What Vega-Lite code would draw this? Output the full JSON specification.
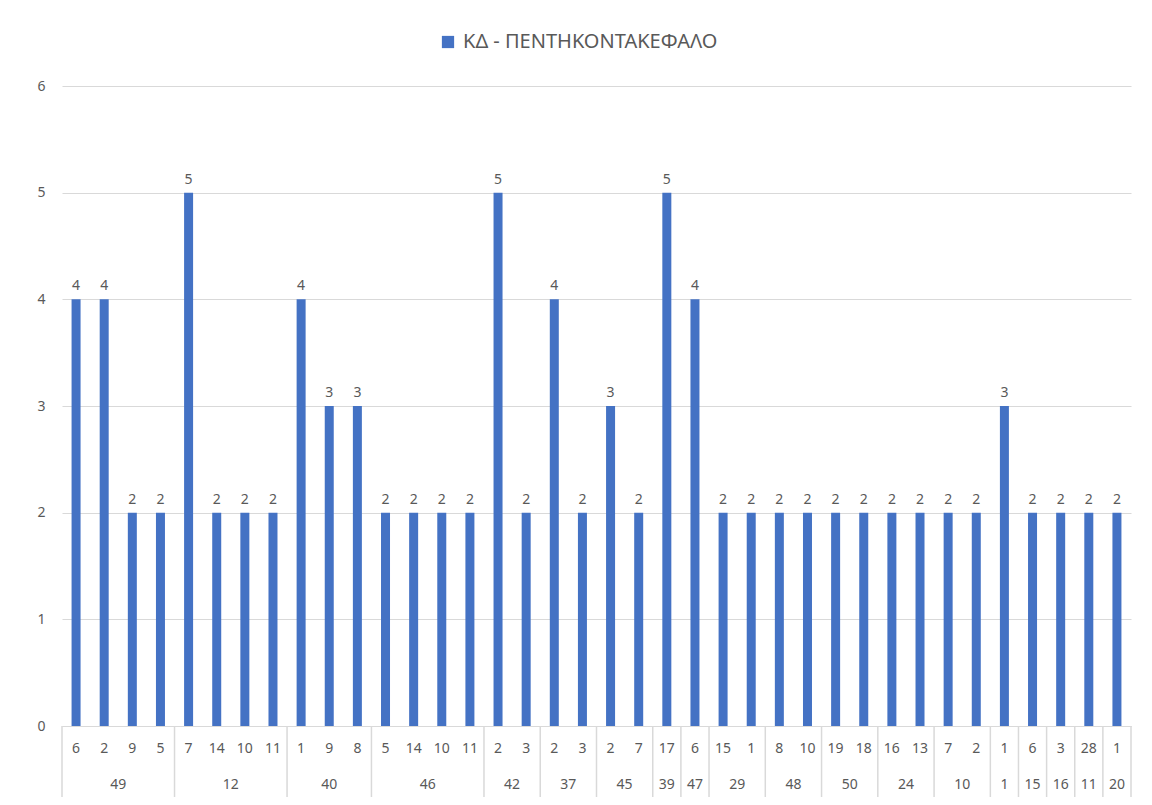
{
  "$schema": "https://vega.github.io/schema/vega-lite/v6.json",
  "width": 1069,
  "height": 640,
  "autosize": {"type": "none"},
  "padding": {"left": 62, "top": 86, "right": 21, "bottom": 79},
  "background": "white",
  "config": {
    "view": {"stroke": null},
    "font": "Noto Sans",
    "axis": {"labelFont": "Noto Sans", "labelColor": "#595959", "labelFontSize": 14}
  },
  "datasets": {
    "bars": [
      {"g": "49", "c": "6", "k": "49|6", "v": 4, "s": "ΚΔ - ΠΕΝΤΗΚΟΝΤΑΚΕΦΑΛΟ"},
      {"g": "49", "c": "2", "k": "49|2", "v": 4, "s": "ΚΔ - ΠΕΝΤΗΚΟΝΤΑΚΕΦΑΛΟ"},
      {"g": "49", "c": "9", "k": "49|9", "v": 2, "s": "ΚΔ - ΠΕΝΤΗΚΟΝΤΑΚΕΦΑΛΟ"},
      {"g": "49", "c": "5", "k": "49|5", "v": 2, "s": "ΚΔ - ΠΕΝΤΗΚΟΝΤΑΚΕΦΑΛΟ"},
      {"g": "12", "c": "7", "k": "12|7", "v": 5, "s": "ΚΔ - ΠΕΝΤΗΚΟΝΤΑΚΕΦΑΛΟ"},
      {"g": "12", "c": "14", "k": "12|14", "v": 2, "s": "ΚΔ - ΠΕΝΤΗΚΟΝΤΑΚΕΦΑΛΟ"},
      {"g": "12", "c": "10", "k": "12|10", "v": 2, "s": "ΚΔ - ΠΕΝΤΗΚΟΝΤΑΚΕΦΑΛΟ"},
      {"g": "12", "c": "11", "k": "12|11", "v": 2, "s": "ΚΔ - ΠΕΝΤΗΚΟΝΤΑΚΕΦΑΛΟ"},
      {"g": "40", "c": "1", "k": "40|1", "v": 4, "s": "ΚΔ - ΠΕΝΤΗΚΟΝΤΑΚΕΦΑΛΟ"},
      {"g": "40", "c": "9", "k": "40|9", "v": 3, "s": "ΚΔ - ΠΕΝΤΗΚΟΝΤΑΚΕΦΑΛΟ"},
      {"g": "40", "c": "8", "k": "40|8", "v": 3, "s": "ΚΔ - ΠΕΝΤΗΚΟΝΤΑΚΕΦΑΛΟ"},
      {"g": "46", "c": "5", "k": "46|5", "v": 2, "s": "ΚΔ - ΠΕΝΤΗΚΟΝΤΑΚΕΦΑΛΟ"},
      {"g": "46", "c": "14", "k": "46|14", "v": 2, "s": "ΚΔ - ΠΕΝΤΗΚΟΝΤΑΚΕΦΑΛΟ"},
      {"g": "46", "c": "10", "k": "46|10", "v": 2, "s": "ΚΔ - ΠΕΝΤΗΚΟΝΤΑΚΕΦΑΛΟ"},
      {"g": "46", "c": "11", "k": "46|11", "v": 2, "s": "ΚΔ - ΠΕΝΤΗΚΟΝΤΑΚΕΦΑΛΟ"},
      {"g": "42", "c": "2", "k": "42|2", "v": 5, "s": "ΚΔ - ΠΕΝΤΗΚΟΝΤΑΚΕΦΑΛΟ"},
      {"g": "42", "c": "3", "k": "42|3", "v": 2, "s": "ΚΔ - ΠΕΝΤΗΚΟΝΤΑΚΕΦΑΛΟ"},
      {"g": "37", "c": "2", "k": "37|2", "v": 4, "s": "ΚΔ - ΠΕΝΤΗΚΟΝΤΑΚΕΦΑΛΟ"},
      {"g": "37", "c": "3", "k": "37|3", "v": 2, "s": "ΚΔ - ΠΕΝΤΗΚΟΝΤΑΚΕΦΑΛΟ"},
      {"g": "45", "c": "2", "k": "45|2", "v": 3, "s": "ΚΔ - ΠΕΝΤΗΚΟΝΤΑΚΕΦΑΛΟ"},
      {"g": "45", "c": "7", "k": "45|7", "v": 2, "s": "ΚΔ - ΠΕΝΤΗΚΟΝΤΑΚΕΦΑΛΟ"},
      {"g": "39", "c": "17", "k": "39|17", "v": 5, "s": "ΚΔ - ΠΕΝΤΗΚΟΝΤΑΚΕΦΑΛΟ"},
      {"g": "47", "c": "6", "k": "47|6", "v": 4, "s": "ΚΔ - ΠΕΝΤΗΚΟΝΤΑΚΕΦΑΛΟ"},
      {"g": "29", "c": "15", "k": "29|15", "v": 2, "s": "ΚΔ - ΠΕΝΤΗΚΟΝΤΑΚΕΦΑΛΟ"},
      {"g": "29", "c": "1", "k": "29|1", "v": 2, "s": "ΚΔ - ΠΕΝΤΗΚΟΝΤΑΚΕΦΑΛΟ"},
      {"g": "48", "c": "8", "k": "48|8", "v": 2, "s": "ΚΔ - ΠΕΝΤΗΚΟΝΤΑΚΕΦΑΛΟ"},
      {"g": "48", "c": "10", "k": "48|10", "v": 2, "s": "ΚΔ - ΠΕΝΤΗΚΟΝΤΑΚΕΦΑΛΟ"},
      {"g": "50", "c": "19", "k": "50|19", "v": 2, "s": "ΚΔ - ΠΕΝΤΗΚΟΝΤΑΚΕΦΑΛΟ"},
      {"g": "50", "c": "18", "k": "50|18", "v": 2, "s": "ΚΔ - ΠΕΝΤΗΚΟΝΤΑΚΕΦΑΛΟ"},
      {"g": "24", "c": "16", "k": "24|16", "v": 2, "s": "ΚΔ - ΠΕΝΤΗΚΟΝΤΑΚΕΦΑΛΟ"},
      {"g": "24", "c": "13", "k": "24|13", "v": 2, "s": "ΚΔ - ΠΕΝΤΗΚΟΝΤΑΚΕΦΑΛΟ"},
      {"g": "10", "c": "7", "k": "10|7", "v": 2, "s": "ΚΔ - ΠΕΝΤΗΚΟΝΤΑΚΕΦΑΛΟ"},
      {"g": "10", "c": "2", "k": "10|2", "v": 2, "s": "ΚΔ - ΠΕΝΤΗΚΟΝΤΑΚΕΦΑΛΟ"},
      {"g": "1", "c": "1", "k": "1|1", "v": 3, "s": "ΚΔ - ΠΕΝΤΗΚΟΝΤΑΚΕΦΑΛΟ"},
      {"g": "15", "c": "6", "k": "15|6", "v": 2, "s": "ΚΔ - ΠΕΝΤΗΚΟΝΤΑΚΕΦΑΛΟ"},
      {"g": "16", "c": "3", "k": "16|3", "v": 2, "s": "ΚΔ - ΠΕΝΤΗΚΟΝΤΑΚΕΦΑΛΟ"},
      {"g": "11", "c": "28", "k": "11|28", "v": 2, "s": "ΚΔ - ΠΕΝΤΗΚΟΝΤΑΚΕΦΑΛΟ"},
      {"g": "20", "c": "1", "k": "20|1", "v": 2, "s": "ΚΔ - ΠΕΝΤΗΚΟΝΤΑΚΕΦΑΛΟ"}
    ],
    "groups": [
      {"g": "49", "first": "49|6", "last": "49|5", "mid": "49|9", "even": true},
      {"g": "12", "first": "12|7", "last": "12|11", "mid": "12|10", "even": true},
      {"g": "40", "first": "40|1", "last": "40|8", "mid": "40|9", "even": false},
      {"g": "46", "first": "46|5", "last": "46|11", "mid": "46|10", "even": true},
      {"g": "42", "first": "42|2", "last": "42|3", "mid": "42|3", "even": true},
      {"g": "37", "first": "37|2", "last": "37|3", "mid": "37|3", "even": true},
      {"g": "45", "first": "45|2", "last": "45|7", "mid": "45|7", "even": true},
      {"g": "39", "first": "39|17", "last": "39|17", "mid": "39|17", "even": false},
      {"g": "47", "first": "47|6", "last": "47|6", "mid": "47|6", "even": false},
      {"g": "29", "first": "29|15", "last": "29|1", "mid": "29|1", "even": true},
      {"g": "48", "first": "48|8", "last": "48|10", "mid": "48|10", "even": true},
      {"g": "50", "first": "50|19", "last": "50|18", "mid": "50|18", "even": true},
      {"g": "24", "first": "24|16", "last": "24|13", "mid": "24|13", "even": true},
      {"g": "10", "first": "10|7", "last": "10|2", "mid": "10|2", "even": true},
      {"g": "1", "first": "1|1", "last": "1|1", "mid": "1|1", "even": false},
      {"g": "15", "first": "15|6", "last": "15|6", "mid": "15|6", "even": false},
      {"g": "16", "first": "16|3", "last": "16|3", "mid": "16|3", "even": false},
      {"g": "11", "first": "11|28", "last": "11|28", "mid": "11|28", "even": false},
      {"g": "20", "first": "20|1", "last": "20|1", "mid": "20|1", "even": false}
    ]
  },
  "layer": [
    {
      "data": {"name": "bars"},
      "mark": {"type": "bar", "width": {"band": 0.32}},
      "encoding": {
        "x": {
          "field": "k", "type": "ordinal",
          "scale": {"domain": ["49|6","49|2","49|9","49|5","12|7","12|14","12|10","12|11","40|1","40|9","40|8","46|5","46|14","46|10","46|11","42|2","42|3","37|2","37|3","45|2","45|7","39|17","47|6","29|15","29|1","48|8","48|10","50|19","50|18","24|16","24|13","10|7","10|2","1|1","15|6","16|3","11|28","20|1"], "paddingInner": 0, "paddingOuter": 0},
          "axis": {
            "title": null, "labelAngle": 0, "ticks": false, "labelPadding": 15,
            "domainColor": "#d9d9d9", "domainWidth": 1,
            "labelExpr": "split(datum.value, '|')[1]"
          }
        },
        "y": {
          "field": "v", "type": "quantitative",
          "scale": {"domain": [0, 6]},
          "axis": {
            "title": null, "values": [0,1,2,3,4,5,6], "format": "d", "domain": false, "ticks": false,
            "gridColor": "#d9d9d9", "gridWidth": 1, "labelPadding": 17
          }
        },
        "color": {
          "field": "s", "type": "nominal",
          "scale": {"range": ["#4472C4"]},
          "legend": {
            "title": null, "orient": "none", "legendX": 376, "legendY": -54,
            "symbolType": "square", "symbolSize": 150, "symbolStrokeWidth": 0,
            "labelFontSize": 20, "labelColor": "#595959", "labelFont": "Noto Sans", "labelOffset": 5, "labelLimit": 0
          }
        }
      }
    },
    {
      "data": {"name": "bars"},
      "mark": {"type": "text", "baseline": "bottom", "dy": -6, "fontSize": 14, "color": "#595959"},
      "encoding": {
        "x": {"field": "k", "type": "ordinal"},
        "y": {"field": "v", "type": "quantitative"},
        "text": {"field": "v", "type": "quantitative"}
      }
    },
    {
      "data": {"name": "groups"},
      "mark": {"type": "rule", "color": "#d9d9d9", "strokeWidth": 1.5, "y2Offset": 71},
      "encoding": {
        "x": {"field": "first", "type": "ordinal", "bandPosition": 0},
        "y": {"datum": 0},
        "y2": {"datum": 0}
      }
    },
    {
      "data": {"name": "groups"},
      "transform": [{"filter": "datum.g == '20'"}],
      "mark": {"type": "rule", "color": "#d9d9d9", "strokeWidth": 1.5, "y2Offset": 71},
      "encoding": {
        "x": {"field": "last", "type": "ordinal", "bandPosition": 1},
        "y": {"datum": 0},
        "y2": {"datum": 0}
      }
    },
    {
      "data": {"name": "groups"},
      "transform": [{"filter": "datum.even"}],
      "mark": {"type": "text", "baseline": "middle", "dy": 59, "fontSize": 14, "color": "#595959"},
      "encoding": {
        "x": {"field": "mid", "type": "ordinal", "bandPosition": 0},
        "y": {"datum": 0},
        "text": {"field": "g", "type": "nominal"}
      }
    },
    {
      "data": {"name": "groups"},
      "transform": [{"filter": "!datum.even"}],
      "mark": {"type": "text", "baseline": "middle", "dy": 59, "fontSize": 14, "color": "#595959"},
      "encoding": {
        "x": {"field": "mid", "type": "ordinal", "bandPosition": 0.5},
        "y": {"datum": 0},
        "text": {"field": "g", "type": "nominal"}
      }
    }
  ]
}
